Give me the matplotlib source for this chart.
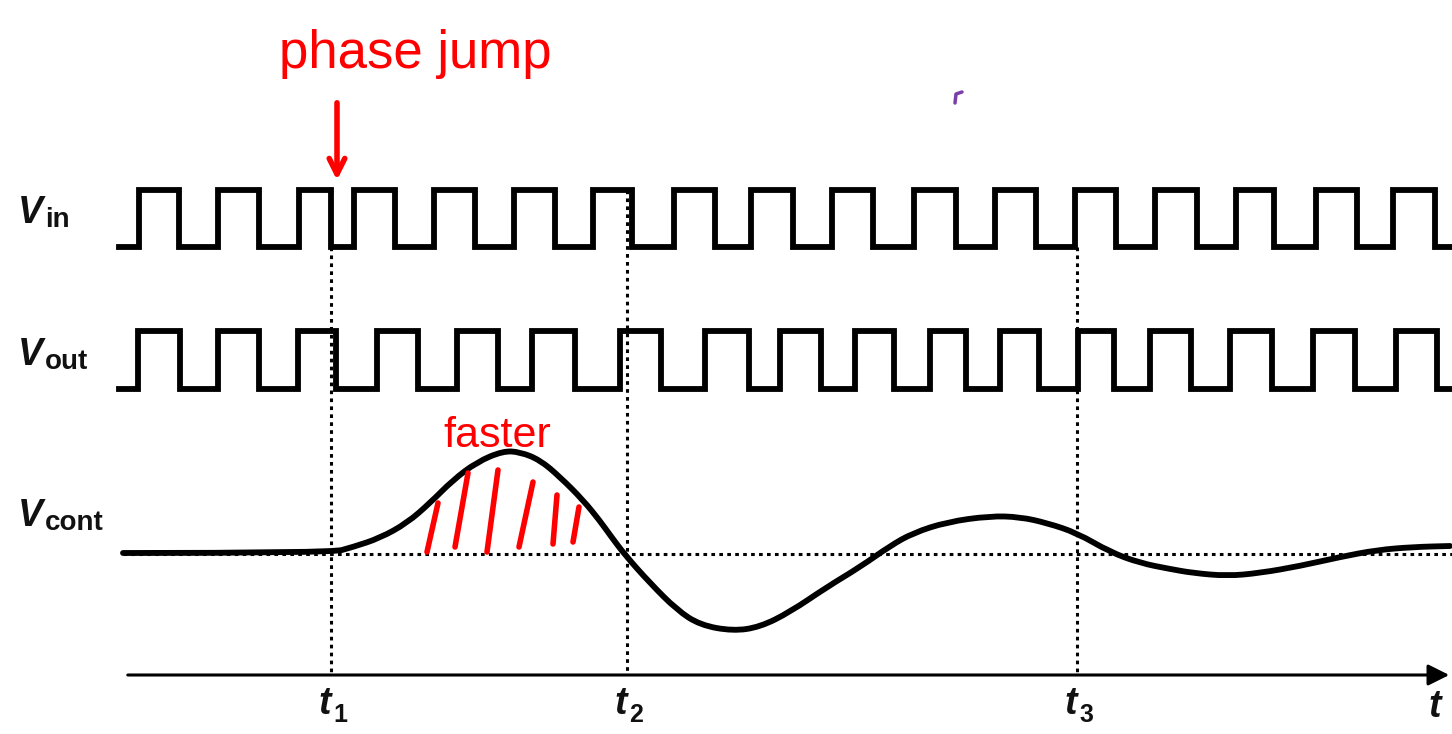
import numpy as np
import matplotlib.pyplot as plt
from matplotlib.path import Path
from matplotlib.patches import PathPatch

# edge positions (horizontal pixel units, time axis)
vin_start, vin_end = 119, 1452
vin_edges = [139, 179, 218, 259, 299, 331, 354, 395, 434, 475, 514, 555, 593, 632,
             674, 715, 751, 793, 832, 873, 914, 956, 995, 1036, 1075, 1116, 1155,
             1197, 1236, 1274, 1316, 1357, 1393, 1435]
vout_edges = [138, 180, 218, 259, 298, 336, 377, 418, 457, 498, 532, 575, 620, 661,
              705, 749, 780, 821, 855, 894, 930, 966, 1000, 1039, 1078, 1114, 1150,
              1191, 1230, 1272, 1313, 1355, 1396, 1437]
vin_levels = (247, 190)    # low, high
vout_levels = (389, 331)

# control voltage, sampled along the drawn curve
vcont_x = [123, 331, 353, 380, 407, 430, 453, 477, 503, 520, 540, 560, 583, 600, 610,
           625, 650, 677, 700, 733, 760, 790, 827, 860, 890, 913, 947, 990, 1020,
           1047, 1077, 1110, 1140, 1170, 1193, 1227, 1260, 1300, 1340, 1377, 1413, 1450]
vcont_y = [553, 553, 547, 538, 523, 503, 480, 462, 451, 452, 460, 477, 500, 521, 535,
           555, 583, 610, 625, 631, 627, 612, 587, 567, 546, 533, 522, 516, 517,
           523, 533, 552, 563, 569, 573, 576, 573, 566, 557, 550, 547, 546]
vcont_base = 554

t_marks = [331, 627, 1077]
t_labels = ['1', '2', '3']
t_tops = [247, 190, 247]
axis_y = 675

hatch = [((438, 503), (427, 552)), ((468, 473), (455, 547)), ((498, 470), (487, 552)),
         ((533, 482), (519, 547)), ((557, 495), (553, 544)), ((579, 507), (573, 542))]


def square_wave(start, end, edges, levels):
    xs = [start]
    ys = [levels[0]]
    state = 0
    for e in edges:
        xs += [e, e]
        ys += [levels[state], levels[1 - state]]
        state = 1 - state
    xs.append(end)
    ys.append(levels[state])
    return xs, ys


def smooth_path(xs, ys):
    # quadratic bezier through midpoints, sample points used as control points
    pts = np.column_stack([xs, ys]).astype(float)
    verts = [pts[0]]
    codes = [Path.MOVETO]
    for i in range(1, len(pts) - 1):
        verts += [pts[i], (pts[i] + pts[i + 1]) / 2]
        codes += [Path.CURVE3, Path.CURVE3]
    verts.append(pts[-1])
    codes.append(Path.LINETO)
    return Path(verts, codes)


def main():
    fig = plt.figure(figsize=(14.52, 7.34), dpi=100)
    ax = fig.add_axes([0, 0, 1, 1])
    ax.set_xlim(0, 1452)
    ax.set_ylim(734, 0)
    ax.axis('off')

    dash = (0, (1.2, 1.4))
    for x, top in zip(t_marks, t_tops):
        ax.plot([x, x], [top, axis_y], color='black', lw=2.2, ls=dash, zorder=1)
    ax.plot([123, 1452], [vcont_base, vcont_base], color='black', lw=2.2, ls=dash, zorder=1)

    wave_kw = dict(color='black', lw=4.2, solid_joinstyle='miter', zorder=3)
    ax.plot(*square_wave(vin_start, vin_end, vin_edges, vin_levels), **wave_kw)
    ax.plot(*square_wave(vin_start, vin_end, vout_edges, vout_levels), **wave_kw)
    ax.add_patch(PathPatch(smooth_path(vcont_x, vcont_y), fill=False, edgecolor='black',
                           lw=4.2, capstyle='round', zorder=3))

    ax.annotate('', xy=(1452, axis_y), xytext=(125, axis_y),
                arrowprops=dict(arrowstyle='-|>', lw=2.2, color='black', mutation_scale=32))

    lab = dict(family='Liberation Sans', fontweight='bold', color='#111111', va='baseline')
    for name, ybase in [('in', 227), ('out', 369), ('cont', 530)]:
        ax.text(18, ybase - 4, 'V', fontsize=27, style='italic', ha='left', **lab)
        ax.text(45, ybase, name, fontsize=20, ha='left', **lab)
    for x, s in zip(t_marks, t_labels):
        ax.text(x - 13, 714, 't', fontsize=27, style='italic', ha='left', **lab)
        ax.text(x + 2, 722, s, fontsize=18, ha='left', **lab)
    ax.text(1428, 717, 't', fontsize=27, style='italic', ha='left', **lab)

    red = '#ff0000'
    ax.text(415, 68, 'phase jump', fontsize=38, color=red, ha='center', va='baseline',
            family='Liberation Sans')
    ax.annotate('', xy=(337, 183), xytext=(337, 100),
                arrowprops=dict(arrowstyle='->', lw=4, color=red, mutation_scale=28))
    ax.text(497, 447, 'faster', fontsize=31, color=red, ha='center', va='baseline',
            family='Liberation Sans')
    for (x0, y0), (x1, y1) in hatch:
        ax.plot([x0, x1], [y0, y1], color=red, lw=4, solid_capstyle='round', zorder=4)
    ax.plot([955, 956, 962], [103, 94, 92], color='#7a3fa8', lw=2.5, solid_capstyle='round')

    fig.savefig('out.png', dpi=100, facecolor='white')


if __name__ == "__main__":
    main()
